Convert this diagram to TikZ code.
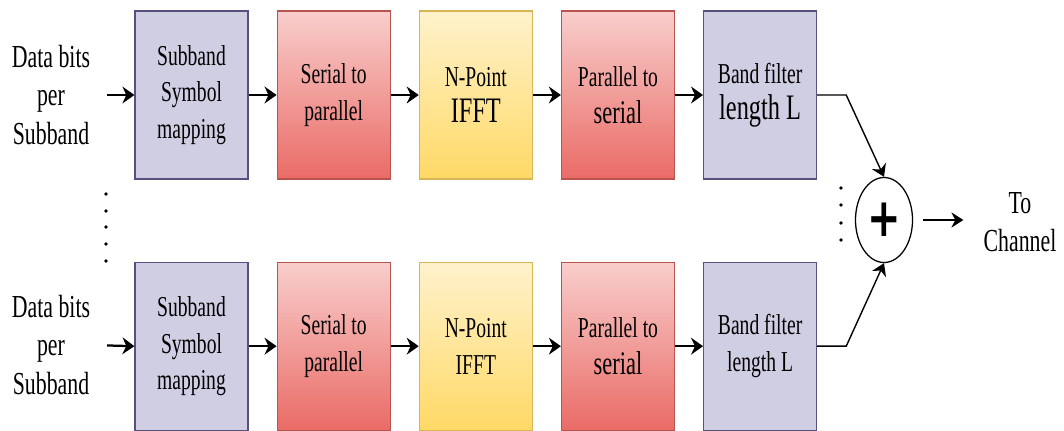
\documentclass[tikz,border=0pt]{standalone}
\usepackage{fontspec}
\setmainfont[FakeStretch=0.68]{Liberation Serif}
\newfontfamily\plusfont[FakeStretch=0.75]{DejaVu Sans}
\usetikzlibrary{arrows.meta,positioning,shapes.geometric}

\definecolor{purpleFill}{HTML}{D0CEE2}
\definecolor{purpleLine}{HTML}{56517E}
\definecolor{redTop}{HTML}{F8CECC}
\definecolor{redBottom}{HTML}{EA6B66}
\definecolor{redLine}{HTML}{B85450}
\definecolor{yellowTop}{HTML}{FFF2CC}
\definecolor{yellowBottom}{HTML}{FFD966}
\definecolor{yellowLine}{HTML}{D6B656}

\newcommand{\boxfont}{\fontsize{20.5}{26}\selectfont}
\newcommand{\labelfont}{\fontsize{22.8}{27.5}\selectfont}
\newcommand{\bigline}[1]{{\fontsize{25.5}{29}\selectfont #1}}
\newcommand{\midline}[1]{{\fontsize{23.5}{27}\selectfont #1}}

\begin{document}
\begin{tikzpicture}[x=0.025cm,y=-0.025cm,
		block/.style={draw,line width=0.8pt,minimum width=2.825cm,minimum height=4.2cm,inner sep=0pt,align=center,font=\boxfont},
		purpleBlock/.style={block,draw=purpleLine,fill=purpleFill},
		redBlock/.style={block,draw=redLine,top color=redTop,bottom color=redBottom},
		yellowBlock/.style={block,draw=yellowLine,top color=yellowTop,bottom color=yellowBottom},
		txt/.style={align=center,inner sep=0pt,font=\labelfont},
		sumNode/.style={draw,ellipse,line width=0.9pt,minimum width=1.425cm,minimum height=2.125cm,inner sep=0pt,font=\plusfont\fontsize{38}{38}\selectfont\bfseries},
		arr/.style={-{Stealth[length=0.3cm,width=0.42cm]},line width=1.6pt},
		thinArr/.style={-{Stealth[length=0.3cm,width=0.38cm]},line width=1pt}]
	\useasboundingbox (0,0) rectangle (1064,430);

	% upper branch
	\node [txt] (in1) at (51,95) {Data bits\\per\\Subband};
	\node [purpleBlock] (map1) at (191.5,95) {Subband\\Symbol\\mapping};
	\node [redBlock, right=0.7cm of map1] (sp1) {Serial to\\parallel};
	\node [yellowBlock, right=0.7cm of sp1] (ifft1) {N-Point\\\bigline{IFFT}};
	\node [redBlock, right=0.7cm of ifft1] (ps1) {Parallel to\\\midline{serial}};
	\node [purpleBlock, right=0.7cm of ps1] (filt1) {Band filter\\\bigline{length L}};

	% lower branch
	\node [txt] (in2) at (51,345) {Data bits\\per\\Subband};
	\node [purpleBlock, below=2.05cm of map1] (map2) {Subband\\Symbol\\mapping};
	\node [redBlock, right=0.7cm of map2] (sp2) {Serial to\\parallel};
	\node [yellowBlock, right=0.7cm of sp2] (ifft2) {N-Point\\IFFT};
	\node [redBlock, right=0.7cm of ifft2] (ps2) {Parallel to\\\midline{serial}};
	\node [purpleBlock, right=0.7cm of ps2] (filt2) {Band filter\\length L};

	% adder and output
	\node [sumNode] (sum) at (884,220) {+};
	\node [txt] (chan) at (1020,222) {To\\Channel};

	\draw [arr, shorten <=0.42cm] (in1.east) -- (map1.west);
	\draw [arr] (map1) -- (sp1);
	\draw [arr] (sp1) -- (ifft1);
	\draw [arr] (ifft1) -- (ps1);
	\draw [arr] (ps1) -- (filt1);

	\draw [arr, shorten <=0.42cm] (in2.east) -- (map2.west);
	\draw [arr] (map2) -- (sp2);
	\draw [arr] (sp2) -- (ifft2);
	\draw [arr] (ifft2) -- (ps2);
	\draw [arr] (ps2) -- (filt2);

	\draw [thinArr] (filt1.east) -- ++(29,0) -- (sum.north);
	\draw [thinArr] (filt2.east) -- ++(29,0) -- (sum.south);
	\draw [thinArr, shorten <=0.25cm, shorten >=0.5cm] (sum.east) -- (chan.west |- sum.east);

	% dots between the branches
	\foreach \y in {194,211,227,244,261}
		\fill (106,\y) circle (1.4pt);
	\foreach \y in {188,205,223,240}
		\fill (841,\y) circle (1.4pt);
\end{tikzpicture}
\end{document}
